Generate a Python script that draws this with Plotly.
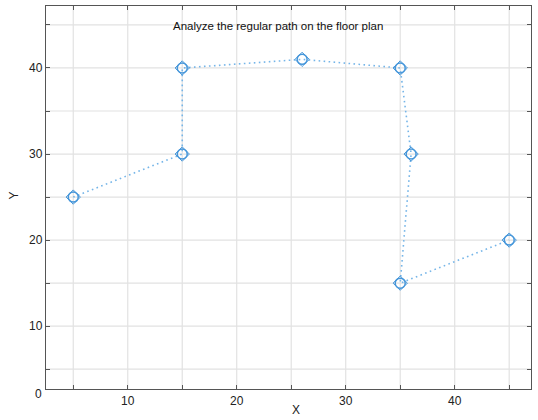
import plotly.graph_objects as go

x_vals = [5, 15, 15, 26, 35, 36, 35, 45]
y_vals = [25, 30, 40, 41, 40, 30, 15, 20]
tick_vals = [10, 20, 30, 40]
grid_vals = [5, 10, 15, 20, 25, 30, 35, 40, 45]
title_text = "Analyze the regular path on the floor plan"

fig = go.Figure()
fig.add_trace(go.Scatter(
    x=x_vals, y=y_vals, mode="lines",
    line=dict(color="#75b5e8", width=1.6, dash="1.6px,3.4px"),
    showlegend=False, hoverinfo="skip"))
fig.add_trace(go.Scatter(
    x=x_vals, y=y_vals, mode="markers",
    marker=dict(symbol="circle-open", size=10, color="#4596da", line=dict(width=1.5, color="#4596da")),
    showlegend=False))
fig.add_trace(go.Scatter(
    x=x_vals, y=y_vals, mode="markers",
    marker=dict(symbol="diamond-open", size=11, color="#4596da", line=dict(width=1.0, color="#4596da")),
    showlegend=False))

axis_common = dict(
    showgrid=False, zeroline=False, showline=True, mirror="ticks",
    linecolor="#555555", linewidth=1.3, automargin=False,
    ticks="inside", ticklen=4, tickcolor="#555555", tickwidth=1,
    tickfont=dict(family="Liberation Sans, Arial, sans-serif", size=12, color="#222222"),
    tickmode="array", tickvals=grid_vals,
    ticktext=[str(v) if v in tick_vals else "" for v in grid_vals],
)

fig.update_xaxes(range=[2.5, 47], **axis_common)
fig.update_yaxes(range=[2.7, 47.2], **axis_common)

shapes = []
for g in grid_vals:
    shapes.append(dict(type="line", xref="x", yref="paper", x0=g, x1=g, y0=0, y1=1,
                       line=dict(color="#e2e2e2", width=1.2), layer="below"))
    shapes.append(dict(type="line", xref="paper", yref="y", x0=0, x1=1, y0=g, y1=g,
                       line=dict(color="#e2e2e2", width=1.2), layer="below"))

fig.update_layout(
    width=538, height=420,
    margin=dict(l=46, r=7, t=6, b=31, autoexpand=False),
    paper_bgcolor="white", plot_bgcolor="white",
    shapes=shapes,
    font=dict(family="Liberation Sans, Arial, sans-serif", color="#222222"),
    annotations=[
        dict(text=title_text, xref="paper", yref="paper", x=0.478, y=0.947,
             showarrow=False, xanchor="center", yanchor="middle",
             font=dict(size=11.5, color="#111111")),
        dict(text="X", xref="paper", yref="paper", x=0.515, y=-0.055,
             showarrow=False, xanchor="center", yanchor="middle",
             font=dict(size=12, color="#222222")),
        dict(text="Y", xref="paper", yref="paper", x=-0.066, y=0.505, textangle=-90,
             showarrow=False, xanchor="center", yanchor="middle",
             font=dict(size=12, color="#222222")),
        dict(text="0", xref="paper", yref="paper", x=-0.004, y=-0.013,
             showarrow=False, xanchor="right", yanchor="middle",
             font=dict(size=12, color="#222222")),
    ],
)

fig.write_html("out.html", config={"displayModeBar": False},
               post_script="document.body.style.margin='0';")
